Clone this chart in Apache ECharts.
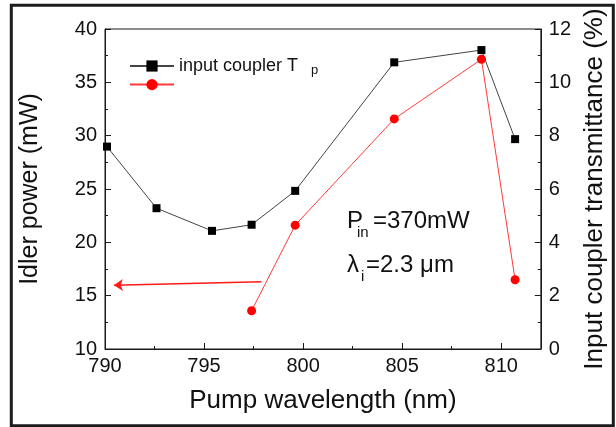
<!DOCTYPE html>
<html>
<head>
<meta charset="utf-8">
<script src="https://cdn.jsdelivr.net/npm/echarts@6/dist/echarts.min.js"></script>
<style>html,body{margin:0;padding:0;background:#fff}#c{width:616px;height:427px}</style>
</head>
<body>
<div id="c"></div>
<script>
// Data
const wavelengthTp = [790.1, 792.6, 795.4, 797.4, 799.6, 804.6, 809.0, 810.7];
const transmittance = [7.59, 5.28, 4.43, 4.66, 5.93, 10.75, 11.21, 7.87];
const wavelengthIdler = [797.4, 799.6, 804.6, 809.0, 810.7];
const idlerPower = [13.59, 21.61, 31.57, 37.16, 16.49];
const arrowX = [797.9, 790.45];
const arrowY = [16.31, 15.97];
const xTicks = [790, 795, 800, 805, 810];
const yLeftTicks = [10, 15, 20, 25, 30, 35, 40];
const yRightTicks = [0, 2, 4, 6, 8, 10, 12];

const FONT = 'Liberation Sans';
const tpData = wavelengthTp.map((x, i) => [x, transmittance[i]]);
const idData = wavelengthIdler.map((x, i) => [x, idlerPower[i]]);

const chart = echarts.init(document.getElementById('c'), null, {renderer: 'canvas'});
const axisLineStyle = {color: '#1a1a1a', width: 1};
chart.setOption({
  animation: false,
  backgroundColor: '#fff',
  grid: {left: 105, right: 73, top: 29, bottom: 78, show: true, borderColor: '#1a1a1a', borderWidth: 1, containLabel: false},
  xAxis: [{
    type: 'value', position: 'bottom',
    min: xTicks[0], max: 812, interval: 5,
    axisLine: {show: true, lineStyle: axisLineStyle},
    axisTick: {show: true, inside: true, length: 6, lineStyle: axisLineStyle},
    axisLabel: {fontFamily: FONT, fontSize: 20, color: '#111', margin: 7, showMaxLabel: false},
    splitLine: {show: false},
    name: 'Pump wavelength (nm)', nameLocation: 'middle', nameGap: 39,
    nameTextStyle: {fontFamily: FONT, fontSize: 26, color: '#111'}
  }, {
    type: 'value', position: 'bottom',
    min: xTicks[0], max: 812, interval: 2.5,
    axisLine: {show: false},
    axisTick: {show: true, inside: true, length: 3, lineStyle: axisLineStyle},
    axisLabel: {show: false},
    splitLine: {show: false}
  }],
  yAxis: [{
    type: 'value', position: 'left',
    min: yLeftTicks[0], max: yLeftTicks[yLeftTicks.length - 1], interval: 5,
    axisLine: {show: true, lineStyle: axisLineStyle},
    axisTick: {show: true, inside: true, length: 6, lineStyle: axisLineStyle},
    minorTick: {show: true, splitNumber: 2, length: 3, lineStyle: axisLineStyle},
    axisLabel: {fontFamily: FONT, fontSize: 20, color: '#111', margin: 8},
    splitLine: {show: false},
    name: 'Idler power (mW)', nameLocation: 'middle', nameGap: 62,
    nameTextStyle: {fontFamily: FONT, fontSize: 25, color: '#111'}
  }, {
    type: 'value', position: 'right',
    min: yRightTicks[0], max: yRightTicks[yRightTicks.length - 1], interval: 2,
    axisLine: {show: true, lineStyle: axisLineStyle},
    axisTick: {show: true, inside: true, length: 6, lineStyle: axisLineStyle},
    minorTick: {show: true, splitNumber: 2, length: 3, lineStyle: axisLineStyle},
    axisLabel: {fontFamily: FONT, fontSize: 20, color: '#111', margin: 8},
    splitLine: {show: false},
    name: 'Input coupler transmittance (%)', nameLocation: 'middle', nameGap: 37,
    nameTextStyle: {fontFamily: FONT, fontSize: 26, color: '#111'}
  }],
  legend: [{
    data: ['input coupler Tp'], orient: 'vertical', left: 124, top: 52,
    itemWidth: 44, itemHeight: 14,
    formatter: () => 'input coupler T',
    textStyle: {fontFamily: FONT, fontSize: 18, color: '#111', lineHeight: 18}
  }, {
    data: ['Idler power'], orient: 'vertical', left: 124, top: 74,
    itemWidth: 44, itemHeight: 14,
    formatter: () => '',
    textStyle: {fontFamily: FONT, fontSize: 18, color: '#111', lineHeight: 18}
  }],
  graphic: [
    {type: 'rect', shape: {x: 11.3, y: 5.3, width: 602, height: 420.4}, style: {fill: 'none', stroke: '#1c1c1c', lineWidth: 3}, silent: true},
    {type: 'text', x: 311, y: 70, style: {text: 'p', fontFamily: FONT, fontSize: 13, fill: '#111', verticalAlign: 'middle'}, silent: true},
    {type: 'text', x: 347, y: 221, style: {text: 'P', fontFamily: FONT, fontSize: 24, fill: '#111', verticalAlign: 'middle'}, silent: true},
    {type: 'text', x: 357, y: 233, style: {text: 'in', fontFamily: FONT, fontSize: 15, fill: '#111', verticalAlign: 'middle'}, silent: true},
    {type: 'text', x: 373, y: 221, style: {text: '=370mW', fontFamily: FONT, fontSize: 24, fill: '#111', verticalAlign: 'middle'}, silent: true},
    {type: 'text', x: 347, y: 265, style: {text: 'λ', fontFamily: FONT, fontSize: 24, fill: '#111', verticalAlign: 'middle'}, silent: true},
    {type: 'text', x: 361, y: 277, style: {text: 'i', fontFamily: FONT, fontSize: 15, fill: '#111', verticalAlign: 'middle'}, silent: true},
    {type: 'text', x: 366, y: 265, style: {text: '=2.3 μm', fontFamily: FONT, fontSize: 24, fill: '#111', verticalAlign: 'middle'}, silent: true}
  ],
  series: [{
    name: 'input coupler Tp', type: 'line', xAxisIndex: 0, yAxisIndex: 1,
    data: tpData, symbol: 'rect', symbolSize: 8,
    lineStyle: {color: '#444', width: 1},
    itemStyle: {color: '#000'},
    emphasis: {disabled: true}, z: 2
  }, {
    name: 'Idler power', type: 'line', xAxisIndex: 0, yAxisIndex: 0,
    data: idData, symbol: 'circle', symbolSize: 9,
    lineStyle: {color: '#ff3a3a', width: 1},
    itemStyle: {color: '#ff0000'},
    emphasis: {disabled: true}, z: 3,
    markLine: {
      silent: true, symbol: ['none', 'arrow'], symbolSize: 9, animation: false,
      label: {show: false},
      lineStyle: {color: '#ff1a1a', width: 1.5, type: 'solid'},
      data: [[{coord: [arrowX[0], arrowY[0]]}, {coord: [arrowX[1], arrowY[1]]}]]
    }
  }]
});
</script>
</body>
</html>
